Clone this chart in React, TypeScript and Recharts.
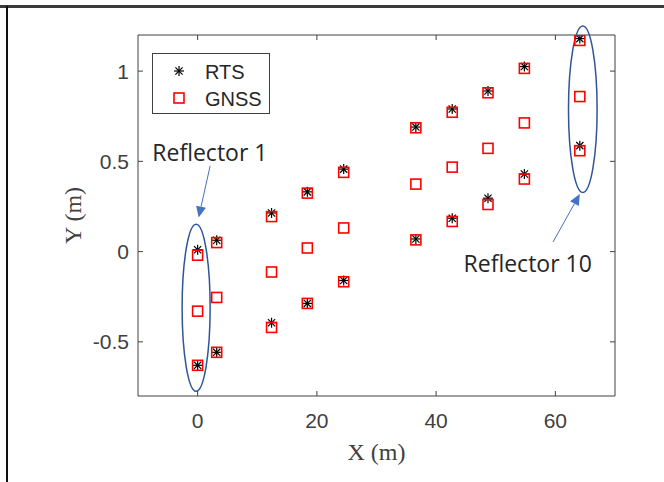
import React from 'react';
import { ScatterChart, Scatter, XAxis, YAxis, ReferenceArea, ReferenceLine, ReferenceDot, Legend } from 'recharts';

// reflector columns (X in m)
const columnX = [0, 3.2, 12.4, 18.4, 24.5, 36.6, 42.7, 48.7, 54.8, 64.1];

// RTS: upper and lower target of each reflector
const rtsUpper = [0.01, 0.063, 0.214, 0.331, 0.457, 0.69, 0.79, 0.89, 1.025, 1.18];
const rtsLower = [-0.63, -0.558, -0.394, -0.287, -0.16, 0.07, 0.185, 0.296, 0.43, 0.587];

// GNSS: upper, middle and lower target
const gnssUpper = [-0.02, 0.05, 0.194, 0.324, 0.439, 0.686, 0.772, 0.88, 1.015, 1.17];
const gnssMiddle = [-0.33, -0.254, -0.113, 0.02, 0.131, 0.374, 0.468, 0.572, 0.713, 0.859];
const gnssLower = [-0.63, -0.558, -0.42, -0.287, -0.167, 0.065, 0.167, 0.261, 0.402, 0.559];

const xTicks = [0, 20, 40, 60];
const yTicks = [-0.5, 0, 0.5, 1];

const rtsData = columnX.flatMap((x, i) => [
  { x, y: rtsUpper[i] },
  { x, y: rtsLower[i] },
]);
const gnssData = columnX.flatMap((x, i) => [
  { x, y: gnssUpper[i] },
  { x, y: gnssMiddle[i] },
  { x, y: gnssLower[i] },
]);

const AXIS = '#404040';

const Asterisk = ({ cx, cy }: any) => {
  const r = 5;
  const d = r * 0.72;
  return (
    <g stroke="#000" strokeWidth={1.2}>
      <line x1={cx - r} y1={cy} x2={cx + r} y2={cy} />
      <line x1={cx} y1={cy - r} x2={cx} y2={cy + r} />
      <line x1={cx - d} y1={cy - d} x2={cx + d} y2={cy + d} />
      <line x1={cx - d} y1={cy + d} x2={cx + d} y2={cy - d} />
    </g>
  );
};

const Square = ({ cx, cy }: any) => (
  <rect x={cx - 5} y={cy - 5} width={10} height={10} fill="none" stroke="#ff0000" strokeWidth={1.6} />
);

const Ellipse = ({ x, y, width, height }: any) => (
  <ellipse cx={x + width / 2} cy={y + height / 2} rx={width / 2} ry={height / 2} fill="none" stroke="#2f5597" strokeWidth={1.5} />
);

const Arrow = ({ x1, y1, x2, y2 }: any) => {
  const ang = Math.atan2(y2 - y1, x2 - x1);
  const len = 11;
  const w = 5;
  const bx = x2 - len * Math.cos(ang);
  const by = y2 - len * Math.sin(ang);
  const px = -Math.sin(ang) * w;
  const py = Math.cos(ang) * w;
  return (
    <g>
      <line x1={x1} y1={y1} x2={bx} y2={by} stroke="#4472c4" strokeWidth={1} />
      <polygon points={`${x2},${y2} ${bx + px},${by + py} ${bx - px},${by - py}`} fill="#4472c4" />
    </g>
  );
};

const xStub = ({ x1, y1, y2 }: any) => {
  const lo = Math.min(y1, y2);
  const hi = Math.max(y1, y2);
  return (
    <g stroke={AXIS} strokeWidth={1}>
      <line x1={x1} y1={hi} x2={x1} y2={hi - 5} />
      <line x1={x1} y1={lo} x2={x1} y2={lo + 5} />
    </g>
  );
};

const yStub = ({ x1, x2, y1 }: any) => {
  const lo = Math.min(x1, x2);
  const hi = Math.max(x1, x2);
  return (
    <g stroke={AXIS} strokeWidth={1}>
      <line x1={lo} y1={y1} x2={lo + 5} y2={y1} />
      <line x1={hi} y1={y1} x2={hi - 5} y2={y1} />
    </g>
  );
};

const Note = (text: string) => ({ cx, cy }: any) => (
  <text x={cx} y={cy} fill="#262626" fontSize={23} fontFamily="'Open Sans', sans-serif">
    {text}
  </text>
);

const LegendBox = () => (
  <div
    style={{
      width: 116,
      height: 59,
      border: `1px solid ${AXIS}`,
      background: '#fff',
      fontFamily: "'Liberation Sans', Arial, sans-serif",
      fontSize: 20,
      color: '#262626',
      position: 'relative',
    }}
  >
    <svg width={116} height={59} style={{ position: 'absolute', left: 0, top: 0 }}>
      <Asterisk cx={26} cy={17} />
      <Square cx={26} cy={44} />
      <text x={52} y={24.5} fontSize={20} fill="#262626" fontFamily="'Liberation Sans', Arial, sans-serif">RTS</text>
      <text x={52} y={51.5} fontSize={20} fill="#262626" fontFamily="'Liberation Sans', Arial, sans-serif">GNSS</text>
    </svg>
  </div>
);

export default function App() {
  return (
    <div
      style={{
        position: 'absolute',
        left: 0,
        top: 0,
        width: 664,
        height: 482,
        background: '#fff',
        overflow: 'hidden',
      }}
    >
      <div style={{ position: 'absolute', left: 0, top: 5, width: 664, height: 3, background: '#3a3a3a' }} />
      <div style={{ position: 'absolute', left: 6, top: 6, width: 2, height: 476, background: '#111' }} />
      <div style={{ position: 'absolute', left: 0, top: 0 }}>
        <ScatterChart width={664} height={482} margin={{ top: 35, right: 49, bottom: 22, left: 58 }}>
          <XAxis
            type="number"
            dataKey="x"
            domain={[-10, 70]}
            ticks={xTicks}
            allowDataOverflow
            axisLine={false}
            tickLine={false}
            tickSize={0}
            tickMargin={17}
            height={64}
            tick={{ fill: AXIS, fontSize: 21, fontFamily: "'Liberation Sans', Arial, sans-serif" }}
            label={{
              value: 'X (m)',
              position: 'insideBottom',
              offset: 0,
              fill: AXIS,
              fontSize: 24,
              fontFamily: "'Liberation Serif', 'Times New Roman', serif",
            }}
          />
          <YAxis
            type="number"
            dataKey="y"
            domain={[-0.8, 1.2]}
            ticks={yTicks}
            allowDataOverflow
            axisLine={false}
            tickLine={false}
            tickSize={0}
            tickMargin={9}
            width={80}
            tick={{ fill: AXIS, fontSize: 21, fontFamily: "'Liberation Sans', Arial, sans-serif" }}
            label={{
              value: 'Y (m)',
              angle: -90,
              position: 'insideLeft',
              offset: 14,
              fill: AXIS,
              fontSize: 24,
              fontFamily: "'Liberation Serif', 'Times New Roman', serif",
              style: { textAnchor: 'middle' },
            }}
          />
          <ReferenceArea x1={-10} x2={70} y1={-0.8} y2={1.2} fill="none" stroke={AXIS} strokeWidth={1} ifOverflow="visible" />
          {xTicks.map((t) => (
            <ReferenceLine key={`xt${t}`} x={t} shape={xStub} />
          ))}
          {yTicks.map((t) => (
            <ReferenceLine key={`yt${t}`} y={t} shape={yStub} />
          ))}
          <Scatter name="RTS" data={rtsData} shape={Asterisk} isAnimationActive={false} />
          <Scatter name="GNSS" data={gnssData} shape={Square} isAnimationActive={false} />
          <ReferenceArea x1={-2.6} x2={2.1} y1={-0.774} y2={0.152} shape={Ellipse} ifOverflow="visible" />
          <ReferenceArea x1={62.2} x2={67.0} y1={0.328} y2={1.25} shape={Ellipse} ifOverflow="visible" />
          <ReferenceLine segment={[{ x: 2.1, y: 0.475 }, { x: 0.17, y: 0.189 }]} shape={Arrow} ifOverflow="visible" />
          <ReferenceLine segment={[{ x: 59.6, y: 0.053 }, { x: 64.1, y: 0.319 }]} shape={Arrow} ifOverflow="visible" />
          <ReferenceDot x={-7.6} y={0.5} shape={Note('Reflector 1')} ifOverflow="visible" />
          <ReferenceDot x={44.6} y={-0.115} shape={Note('Reflector 10')} ifOverflow="visible" />
          <Legend
            layout="vertical"
            align="center"
            verticalAlign="middle"
            content={LegendBox}
            wrapperStyle={{ position: 'absolute', left: 152, top: 53, width: 'auto', height: 'auto' }}
          />
        </ScatterChart>
      </div>
    </div>
  );
}
